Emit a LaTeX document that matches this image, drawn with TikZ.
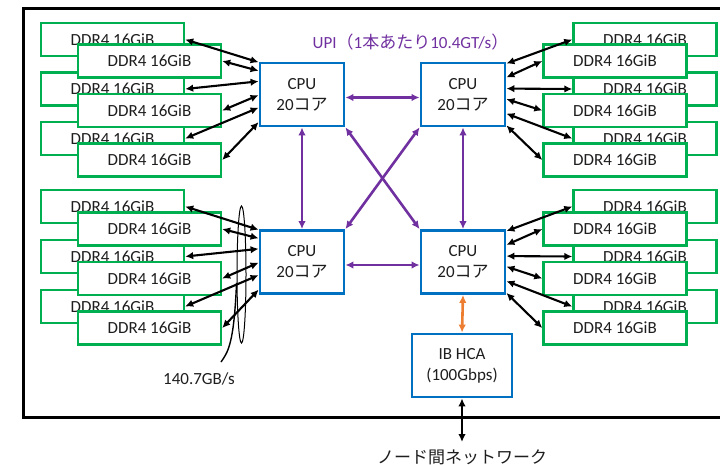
\documentclass[tikz,border=0pt]{standalone}
\usepackage{fontspec}
\setmainfont{Carlito}
\newfontfamily\jp{Noto Sans CJK JP}
\usetikzlibrary{arrows.meta,calc,shapes.geometric}
\definecolor{ddrgreen}{HTML}{00B050}
\definecolor{cpublue}{HTML}{0070C0}
\definecolor{upipurple}{HTML}{7030A0}
\definecolor{hcaorange}{HTML}{ED7D31}
\definecolor{txt}{HTML}{1E1E1E}
\begin{document}
\begin{tikzpicture}[x=1pt,y=-1pt,
  font=\fontsize{17}{21}\selectfont, text=txt,
  ddr/.style={draw=ddrgreen, line width=2.4pt, fill=white, minimum width=143pt, minimum height=33pt, inner sep=0pt},
  cpubox/.style={draw=cpublue, line width=2.8pt, fill=white, minimum width=84pt, minimum height=63pt, inner sep=0pt, align=center},
  tipA/.tip={Latex[length=8pt,width=7.5pt]},
  mem/.style={draw=black, line width=2.1pt, tipA-tipA},
  upi/.style={draw=upipurple, line width=2.6pt, tipA-tipA},
  ib/.style={draw=hcaorange, line width=2.6pt, tipA-tipA},
  net/.style={draw=black, line width=2.3pt, tipA-tipA},
]
\useasboundingbox (0,0) rectangle (720,464);
% outer frame
\draw[line width=3pt] (23,8) rectangle (735,417);

% DDR back boxes
\foreach \n/\y in {1/39.5,2/89,3/138.5}{
  \node[ddr] (LTb\n) at (112.5,\y) {DDR4 16GiB};
  \node[ddr] (RTb\n) at (645,\y) {DDR4 16GiB};
}
\foreach \n/\y in {1/206.5,2/256.5,3/306.5}{
  \node[ddr] (LBb\n) at (112.5,\y) {DDR4 16GiB};
  \node[ddr] (RBb\n) at (645,\y) {DDR4 16GiB};
}
% DDR front boxes
\foreach \n/\y in {1/61,2/110.5,3/160}{
  \node[ddr] (LTf\n) at (149.5,\y) {DDR4 16GiB};
  \node[ddr] (RTf\n) at (615,\y) {DDR4 16GiB};
}
\foreach \n/\y in {1/229,2/278.5,3/328}{
  \node[ddr] (LBf\n) at (149.5,\y) {DDR4 16GiB};
  \node[ddr] (RBf\n) at (615,\y) {DDR4 16GiB};
}

% CPUs
\node[cpubox] (tl) at (302,94.5) {CPU\\20{\jp コア}};
\node[cpubox] (tr) at (463,94.5) {CPU\\20{\jp コア}};
\node[cpubox] (bl) at (302,262) {CPU\\20{\jp コア}};
\node[cpubox] (br) at (463,262) {CPU\\20{\jp コア}};

% HCA
\node[cpubox, minimum width=100pt] (hca) at (462,365.5) {IB HCA\\(100Gbps)};
\coordinate (netend) at (462,442);
\node (netlbl) at (462,457) {\jp ノード間ネットワーク};

% UPI label
\node[text=upipurple] (upilbl) at (410.5,42) {UPI{\jp （}1{\jp 本あたり}10.4GT/s{\jp ）}};

% memory arrows, left CPUs
\foreach \c/\s in {tl/LT,bl/LB}{
  \draw[mem] (\s b1.east) -- ($(\c.north west)!0.01!(\c.south west)$);
  \draw[mem] (\s f1.east) -- ($(\c.north west)!0.14!(\c.south west)$);
  \draw[mem] (\s b2.east) -- ($(\c.north west)!0.30!(\c.south west)$);
  \draw[mem] (\s f2.east) -- ($(\c.north west)!0.51!(\c.south west)$);
  \draw[mem] (\s b3.east) -- ($(\c.north west)!0.70!(\c.south west)$);
  \draw[mem] (\s f3.east) -- ($(\c.north west)!0.92!(\c.south west)$);
}
% memory arrows, right CPUs
\foreach \c/\s in {tr/RT,br/RB}{
  \draw[mem] ($(\c.north east)!0.03!(\c.south east)$) -- (\s b1.west);
  \draw[mem] ($(\c.north east)!0.24!(\c.south east)$) -- (\s f1.west);
  \draw[mem] ($(\c.north east)!0.41!(\c.south east)$) -- (\s b2.west);
  \draw[mem] ($(\c.north east)!0.57!(\c.south east)$) -- (\s f2.west);
  \draw[mem] ($(\c.north east)!0.79!(\c.south east)$) -- (\s b3.west);
  \draw[mem] ($(\c.north east)!0.97!(\c.south east)$) -- (\s f3.west);
}

% UPI links
\draw[upi] ([yshift=-3pt]tl.east) -- ([yshift=-3pt]tr.west);
\draw[upi] ([yshift=-3pt]bl.east) -- ([yshift=-3pt]br.west);
\draw[upi] (tl.south) -- (bl.north);
\draw[upi] (tr.south) -- (br.north);
\draw[upi] (tl.south east) -- (br.north west);
\draw[upi] (tr.south west) -- (bl.north east);

% IB links
\draw[ib] (br.south) -- (hca.north);
\draw[net] (hca.south) -- (netend);

% bandwidth annotation
\node[draw, line width=1pt, ellipse, minimum width=9pt, minimum height=137pt, inner sep=0pt] (bw) at (241.5,274.5) {};
\node (bwlbl) at (199,379) {140.7GB/s};
\coordinate (bwstart) at (221,362);
\draw[line width=1.4pt] (bwstart) .. controls (228,352) and (234,344) .. (bw.239);
\end{tikzpicture}
\end{document}
